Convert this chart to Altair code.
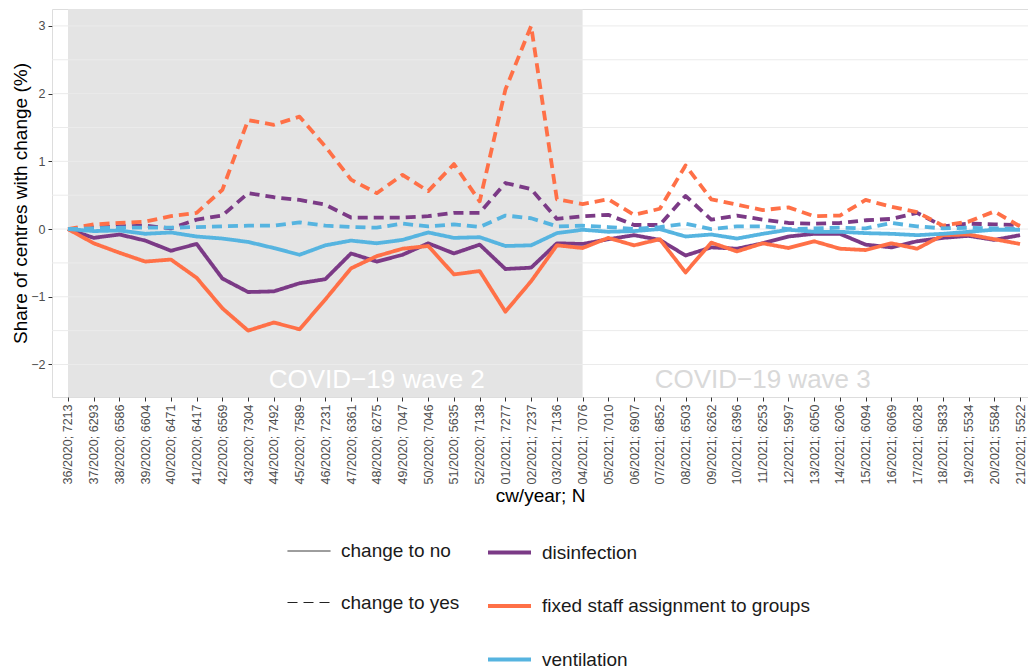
import json
import altair as alt
import pandas as pd

weeks = ["36/2020", "37/2020", "38/2020", "39/2020", "40/2020", "41/2020", "42/2020",
         "43/2020", "44/2020", "45/2020", "46/2020", "47/2020", "48/2020", "49/2020",
         "50/2020", "51/2020", "52/2020", "01/2021", "02/2021", "03/2021", "04/2021",
         "05/2021", "06/2021", "07/2021", "08/2021", "09/2021", "10/2021", "11/2021",
         "12/2021", "13/2021", "14/2021", "15/2021", "16/2021", "17/2021", "18/2021",
         "19/2021", "20/2021", "21/2021"]
ns = [7213, 6293, 6586, 6604, 6471, 6417, 6569, 7304, 7492, 7589, 7231, 6361, 6275, 7047,
      7046, 5635, 7138, 7277, 7237, 7136, 7076, 7010, 6907, 6852, 6503, 6262, 6396, 6253,
      5997, 6050, 6206, 6094, 6069, 6028, 5833, 5534, 5584, 5522]
labels = [f"{w}; {n}" for w, n in zip(weeks, ns)]

measures = ["disinfection", "fixed staff assignment to groups", "ventilation"]
changes = ["change to no", "change to yes"]
colors = ["#7B3A86", "#FF7047", "#56B4E0"]

dis_no = [0, -0.13, -0.08, -0.17, -0.32, -0.22, -0.73, -0.93, -0.92, -0.80, -0.74, -0.36, -0.48,
          -0.38, -0.21, -0.36, -0.23, -0.59, -0.57, -0.21, -0.22, -0.15, -0.09, -0.16, -0.39,
          -0.27, -0.29, -0.21, -0.11, -0.07, -0.07, -0.23, -0.27, -0.18, -0.13, -0.10, -0.16, -0.09]
dis_yes = [0, 0.02, 0.04, 0.05, 0.01, 0.14, 0.20, 0.53, 0.47, 0.43, 0.36, 0.17, 0.17, 0.17, 0.19,
           0.24, 0.24, 0.68, 0.59, 0.15, 0.19, 0.21, 0.06, 0.06, 0.49, 0.14, 0.20, 0.14, 0.09,
           0.08, 0.09, 0.13, 0.15, 0.24, 0.04, 0.08, 0.07, 0.06]
fix_no = [0, -0.21, -0.35, -0.48, -0.45, -0.72, -1.17, -1.50, -1.38, -1.48, -1.04, -0.58, -0.40,
          -0.29, -0.25, -0.67, -0.62, -1.22, -0.77, -0.24, -0.28, -0.13, -0.24, -0.15, -0.64,
          -0.20, -0.33, -0.21, -0.28, -0.18, -0.29, -0.31, -0.21, -0.29, -0.09, -0.08, -0.15, -0.22]
fix_yes = [0, 0.07, 0.09, 0.11, 0.19, 0.24, 0.58, 1.61, 1.54, 1.66, 1.22, 0.73, 0.53, 0.80, 0.56,
           0.96, 0.41, 2.06, 3.00, 0.44, 0.37, 0.44, 0.21, 0.30, 0.94, 0.44, 0.36, 0.28, 0.32,
           0.19, 0.20, 0.43, 0.33, 0.25, 0.05, 0.11, 0.26, 0.04]
ven_no = [0, -0.03, -0.02, -0.07, -0.05, -0.11, -0.14, -0.19, -0.28, -0.38, -0.24, -0.17, -0.21,
          -0.16, -0.05, -0.13, -0.12, -0.25, -0.24, -0.06, -0.01, -0.04, -0.03, 0.0, -0.11,
          -0.08, -0.14, -0.07, -0.01, -0.04, -0.04, -0.06, -0.07, -0.09, -0.07, -0.04, -0.01, -0.01]
ven_yes = [0, 0.01, 0.02, 0.02, 0.02, 0.03, 0.04, 0.05, 0.05, 0.10, 0.05, 0.03, 0.02, 0.08, 0.04,
           0.07, 0.03, 0.20, 0.16, 0.04, 0.05, 0.03, 0.0, 0.03, 0.08, 0.0, 0.04, 0.04, 0.0,
           0.01, 0.02, 0.01, 0.09, 0.04, 0.01, 0.02, 0.01, 0.0]

series = {
    ("disinfection", "change to no"): dis_no,
    ("disinfection", "change to yes"): dis_yes,
    ("fixed staff assignment to groups", "change to no"): fix_no,
    ("fixed staff assignment to groups", "change to yes"): fix_yes,
    ("ventilation", "change to no"): ven_no,
    ("ventilation", "change to yes"): ven_yes,
}
rows = []
for (m, c), vals in series.items():
    for i, v in enumerate(vals):
        rows.append({"idx": i, "measure": m, "change": c, "value": v})
df = pd.DataFrame(rows)

wave_start, wave_end = 0, 20
wave_labels = ["COVID−19 wave 2", "COVID−19 wave 3"]
wave_label_x = [12, 27]
wave_label_y = [-2.23, -2.23]
wave_label_colors = ["#FFFFFF", "#D9D9D9"]

grid_values = [-2.0, -1.5, -1.0, -0.5, 0.0, 0.5, 1.0, 1.5, 2.0, 2.5, 3.0]
y_ticks = [-2, -1, 0, 1, 2, 3]

Y_MIN, Y_MAX = -2.48, 3.25
X_MIN, X_MAX = -0.6218, 37.310

FONT = "Liberation Sans"
x_scale = alt.Scale(domain=[X_MIN, X_MAX], nice=False, zero=False)
y_scale = alt.Scale(domain=[Y_MIN, Y_MAX], nice=False, zero=False)

label_expr = "[" + ",".join(json.dumps(l) for l in labels) + "][datum.value]"

x_axis = alt.Axis(
    values=list(range(len(labels))), labelExpr=label_expr, labelAngle=270,
    labelAlign="right", labelBaseline="middle", labelFontSize=12.5, labelColor="#4D4D4D",
    labelPadding=3, tickSize=4, tickColor="#333333", domain=False, grid=False,
    title="cw/year; N", titleFontSize=19, titleFontWeight="normal", titleColor="#000000",
    titlePadding=3, labelFont=FONT, titleFont=FONT, labelBound=False,
)
y_axis = alt.Axis(
    values=y_ticks, labelFontSize=12.5, labelColor="#4D4D4D", labelPadding=3,
    tickSize=4, tickColor="#333333", domain=False, grid=False,
    title="Share of centres with change (%)", titleFontSize=19, titleFontWeight="normal",
    titleColor="#000000", titlePadding=0, labelFont=FONT, titleFont=FONT,
)

wave_df = pd.DataFrame({"start": [wave_start], "end": [wave_end], "ymin": [Y_MIN], "ymax": [Y_MAX]})
shade = alt.Chart(wave_df).mark_rect(color="#E4E4E4").encode(
    x=alt.X("start:Q", scale=x_scale, axis=x_axis),
    x2="end:Q",
    y=alt.Y("ymin:Q", scale=y_scale, axis=y_axis),
    y2="ymax:Q",
)

grid_df = pd.DataFrame({"g": grid_values})
grid = alt.Chart(grid_df).mark_rule(color="#EBEBEB", strokeWidth=1).encode(
    y=alt.Y("g:Q", scale=y_scale, axis=y_axis)
)

text_df = pd.DataFrame({"x": wave_label_x, "y": wave_label_y, "label": wave_labels,
                        "c": wave_label_colors})
texts = alt.Chart(text_df).mark_text(fontSize=26, font=FONT, align="center",
                                     baseline="middle").encode(
    x=alt.X("x:Q", scale=x_scale, axis=x_axis),
    y=alt.Y("y:Q", scale=y_scale, axis=y_axis),
    text="label:N",
    color=alt.Color("c:N", scale=None),
)

legend_common = dict(orient="none", direction="vertical", title=None, symbolType="stroke",
                     symbolSize=1849, labelFontSize=19, labelColor="#1A1A1A", labelFont=FONT,
                     rowPadding=19.5, padding=0, labelLimit=500)

lines = alt.Chart(df).mark_line(strokeWidth=3.8, strokeJoin="round").encode(
    x=alt.X("idx:Q", scale=x_scale, axis=x_axis),
    y=alt.Y("value:Q", scale=y_scale, axis=y_axis),
    color=alt.Color("measure:N", scale=alt.Scale(domain=measures, range=colors),
                    legend=alt.Legend(legendX=434, legendY=520, symbolStrokeWidth=4,
                                      labelOffset=9, **legend_common)),
    strokeDash=alt.StrokeDash("change:N",
                              scale=alt.Scale(domain=changes, range=[[1, 0], [10, 6]]),
                              legend=alt.Legend(legendX=235, legendY=520, symbolStrokeWidth=1,
                                                symbolStrokeColor="#222222", labelOffset=10,
                                                **legend_common)),
    order=alt.Order("idx:Q"),
)

chart = alt.layer(shade, grid, texts, lines).properties(
    width=976, height=388,
    autosize=alt.AutoSizeParams(type="none"),
    padding={"left": 44, "top": 1, "right": 0, "bottom": 275},
    background="#FFFFFF",
).configure_view(stroke="#333333", strokeWidth=1).configure(font=FONT)

chart.save("out.html", embed_options={"renderer": "svg", "actions": False})
